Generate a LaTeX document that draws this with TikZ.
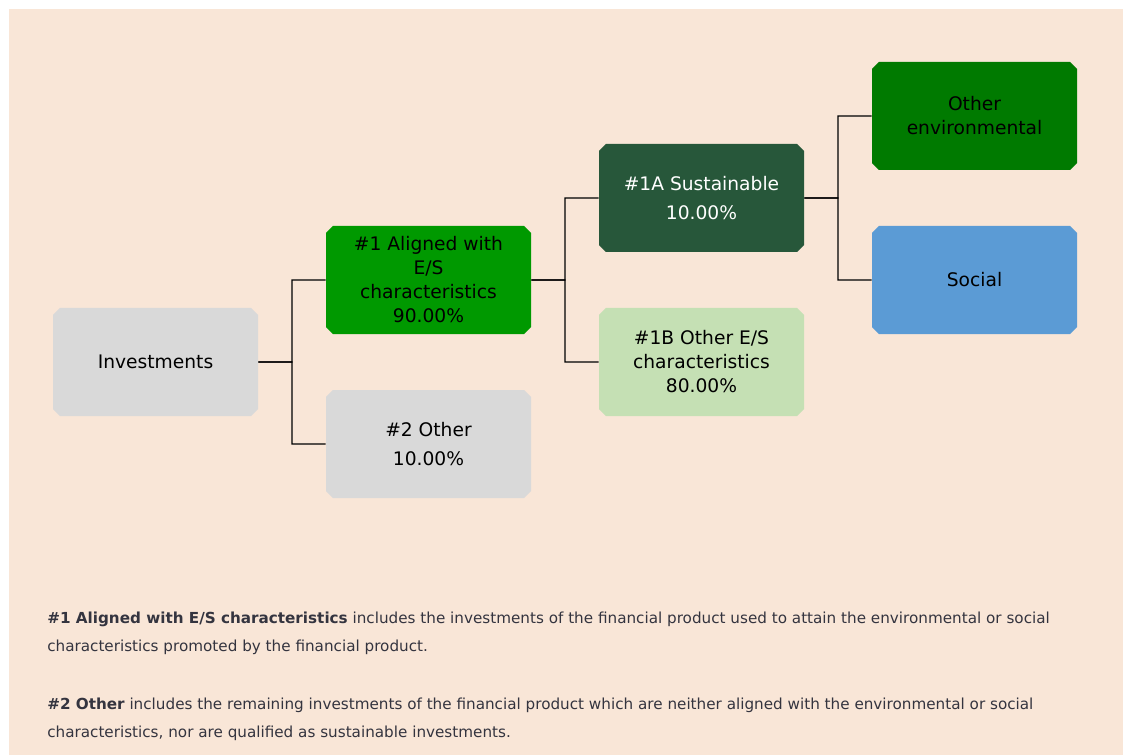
\documentclass[tikz,border=0pt]{standalone}
\usepackage{fontspec}
\setmainfont{DejaVu Sans}
\usetikzlibrary{trees, shapes.misc}
\usetikzlibrary{positioning}

\definecolor{peach}{HTML}{F9E6D7}
\definecolor{boxgray}{HTML}{D9D9D9}
\definecolor{aligngreen}{HTML}{009900}
\definecolor{susgreen}{HTML}{27573A}
\definecolor{lightgreen}{HTML}{C5E0B4}
\definecolor{envgreen}{HTML}{007A00}
\definecolor{socblue}{HTML}{5B9BD5}
\definecolor{notegray}{HTML}{34343F}

\tikzset{
  esgbox/.style={chamfered rectangle, chamfered rectangle xsep=1.5pt,
    minimum width=153.75pt, minimum height=81pt, inner sep=2pt,
    align=center, font=\fontsize{14}{18}\selectfont},
  notetext/.style={anchor=west, align=left, text=notegray,
    font=\fontsize{11.4}{21}\selectfont, inner sep=0pt}
}

\begin{document}
\begin{tikzpicture}[x=0.75pt,y=-0.75pt,grow'=right,
    level distance=204.75pt,sibling distance=123pt,
    edge from parent fork right,
    edge from parent/.style={draw,black,line width=0.9pt}]
\useasboundingbox (0,0) rectangle (1123,755);
\fill[peach] (9,9) rectangle (1123,755);

\node (inv) [esgbox,fill=boxgray] at (155.5,362) {Investments}
    child{node [esgbox,fill=aligngreen] (al) {\#1 Aligned with\\E/S\\characteristics\\90.00\%}
        child{node [esgbox,fill=susgreen,text=white] (sus) {\#1A Sustainable\\[4pt]10.00\%}
            child{node [esgbox,fill=envgreen] (env) {Other\\environmental}}
            child{node [esgbox,fill=socblue] (soc) {Social}}}
        child{node [esgbox,fill=lightgreen] (oes) {\#1B Other E/S\\characteristics\\80.00\%}}}
    child{node [esgbox,fill=boxgray] (oth) {\#2 Other\\[4pt]10.00\%}};

% explanatory notes
\node (note1) [notetext] at (47,633) {\textbf{\#1 Aligned with E/S characteristics} includes the investments of the financial product used to attain the environmental or social\\characteristics promoted by the financial product.};
\node (note2) [notetext] at (47,719.5) {\textbf{\#2 Other} includes the remaining investments of the financial product which are neither aligned with the environmental or social\\characteristics, nor are qualified as sustainable investments.};
\end{tikzpicture}
\end{document}
